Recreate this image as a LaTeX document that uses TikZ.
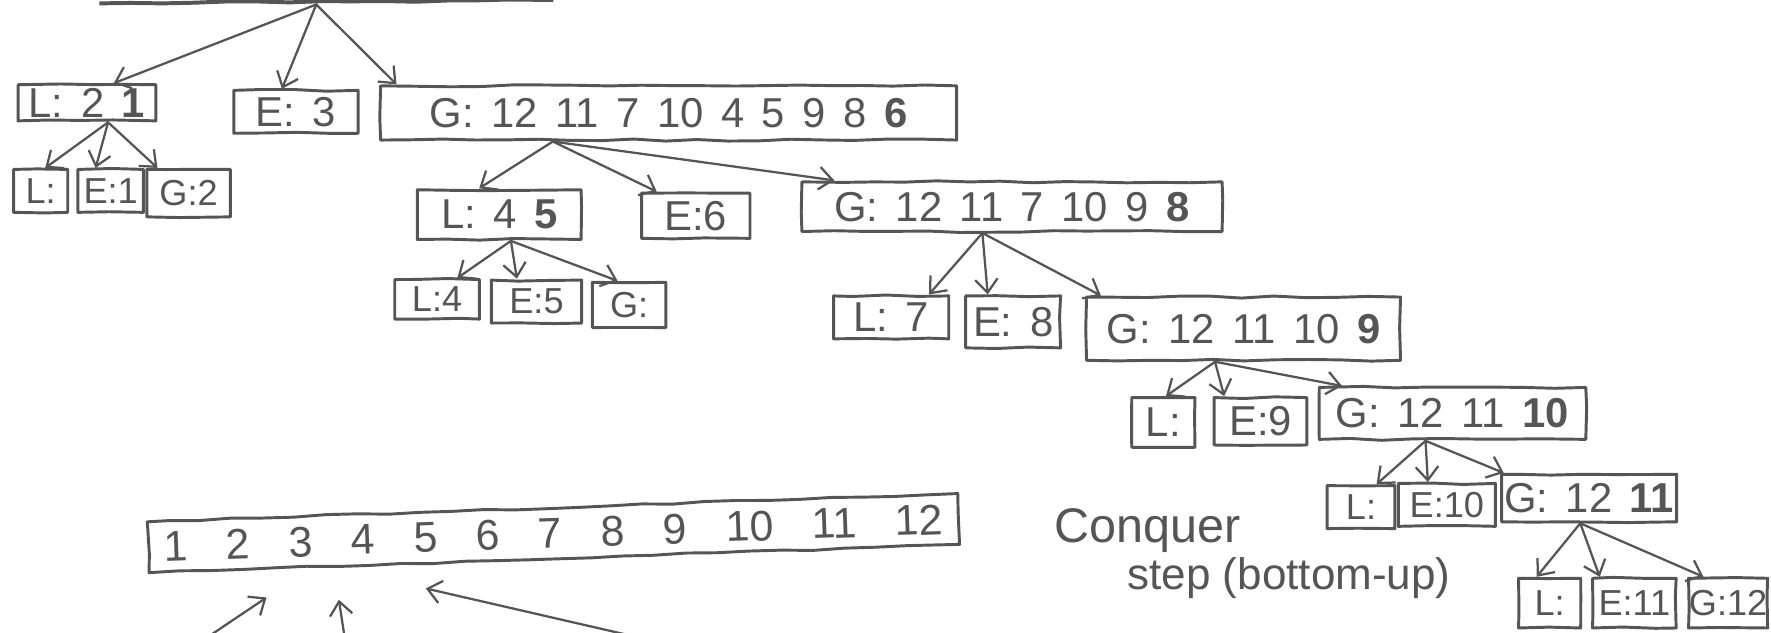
\documentclass[tikz,border=0pt]{standalone}
\usepackage{fontspec}
\setmainfont{Liberation Sans}
\usetikzlibrary{arrows.meta,calc,decorations.pathmorphing}
\definecolor{ink}{HTML}{555555}
\newcommand{\wsA}{\spaceskip 0.42em\relax}
\newcommand{\wsB}{\spaceskip 0.9em\relax}
\begin{document}
\pgfmathsetseed{7}
\begin{tikzpicture}[x=1pt,y=-1pt,
  sk/.style={draw=ink, line width=2.6pt, line join=round, decorate, decoration={random steps,segment length=28pt,amplitude=0.9pt}},
  box/.style={sk, rectangle, inner sep=0pt, text=ink, font=\fontsize{37}{42}\selectfont\wsA},
  sbox/.style={box, font=\fontsize{32}{38}\selectfont\wsA},
  arr/.style={draw=ink, line width=2pt, line cap=round, -{Straight Barb[length=12pt,width=20pt,line width=2pt]}},
  note/.style={text=ink, inner sep=0pt, anchor=west}]
\useasboundingbox (0,0) rectangle (1568,560);
% root (only its lower edge is visible)
\draw[sk, line width=3.5pt] (88,3) -- (490,0);
\coordinate (root) at (280,4);
% level 1
\node[box, minimum width=122pt, minimum height=32pt] (L21) at (77,91) {L: 2 \textbf{1}};
\node[box, minimum width=110pt, minimum height=38pt] (E3) at (262,99) {E: 3};
\node[box, minimum width=510pt, minimum height=48pt] (G6) at (592,100) {G: 12 11 7 10 4 5 9 8 \textbf{6}};
% children of L21
\node[sbox, minimum width=48pt, minimum height=38pt] (La) at (36,169) {L:};
\node[sbox, minimum width=58pt, minimum height=38pt] (E1) at (98,169) {E:1};
\node[sbox, minimum width=74pt, minimum height=42pt] (G2) at (167,171) {G:2};
% children of G6
\node[box, minimum width=145pt, minimum height=44pt] (L45) at (442,190) {L: 4 \textbf{5}};
\node[box, minimum width=96pt, minimum height=40pt] (E6) at (616,191) {E:6};
\node[box, minimum width=372pt, minimum height=44pt] (G8) at (896,183) {G: 12 11 7 10 9 \textbf{8}};
% children of L45
\node[sbox, minimum width=75pt, minimum height=35pt] (L4) at (387,265) {L:4};
\node[sbox, minimum width=80pt, minimum height=38pt] (E5) at (475,267) {E:5};
\node[sbox, minimum width=65pt, minimum height=40pt] (Gb) at (557,270) {G:};
% children of G8
\node[box, minimum width=102pt, minimum height=38pt] (L7) at (789,281) {L: 7};
\node[box, minimum width=84pt, minimum height=46pt] (E8) at (897,285) {E: 8};
\node[box, minimum width=278pt, minimum height=56pt] (G9) at (1101,291) {G: 12 11 10 \textbf{9}};
% children of G9
\node[box, minimum width=56pt, minimum height=44pt] (Lc) at (1030,374) {L:};
\node[box, minimum width=82pt, minimum height=42pt] (E9) at (1116,373) {E:9};
\node[box, minimum width=236pt, minimum height=46pt] (G10) at (1286,366) {G: 12 11 \textbf{10}};
% children of G10
\node[sbox, minimum width=60pt, minimum height=38pt] (Ld) at (1205,449) {L:};
\node[sbox, minimum width=86pt, minimum height=38pt] (E10) at (1281,447) {E:10};
\node[box, minimum width=155pt, minimum height=42pt] (G11) at (1407,441) {G: 12 \textbf{11}};
% children of G11
\node[sbox, minimum width=55pt, minimum height=44pt] (Le) at (1372,534) {L:};
\node[sbox, minimum width=74pt, minimum height=44pt] (E11) at (1447,534) {E:11};
\node[sbox, minimum width=70pt, minimum height=44pt] (G12) at (1530,534) {G:12};
% sorted result
\node[box, rotate=2, minimum width=718pt, minimum height=45pt, font=\fontsize{38}{42}\selectfont\wsB] (S) at (490,472) {1 2 3 4 5 6 7 8 9 10 11 12};
\node[note, font=\fontsize{43}{46}\selectfont] (cq) at (933,470) {Conquer};
\node[note, font=\fontsize{39}{42}\selectfont] (st) at (998,512) {step (bottom-up)};
% split points
\coordinate (sL21) at ($(L21.south west)!0.65!(L21.south east)$);
\coordinate (sG6) at ($(G6.south west)!0.3!(G6.south east)$);
\coordinate (sL45) at ($(L45.south west)!0.57!(L45.south east)$);
\coordinate (sG8) at ($(G8.south west)!0.43!(G8.south east)$);
\coordinate (sG9) at ($(G9.south west)!0.41!(G9.south east)$);
\coordinate (sG10) at ($(G10.south west)!0.4!(G10.south east)$);
\coordinate (sG11) at ($(G11.south west)!0.45!(G11.south east)$);
% arrows
\draw[arr] (root) -- ($(L21.north west)!0.69!(L21.north east)$);
\draw[arr] (root) -- ($(E3.north west)!0.39!(E3.north east)$);
\draw[arr] (root) -- ($(G6.north west)!0.03!(G6.north east)$);
\draw[arr] (sL21) -- ($(La.north west)!0.58!(La.north east)$);
\draw[arr] (sL21) -- ($(E1.north west)!0.28!(E1.north east)$);
\draw[arr] (sL21) -- ($(G2.north west)!0.14!(G2.north east)$);
\draw[arr] (sG6) -- ($(L45.north west)!0.38!(L45.north east)$);
\draw[arr] (sG6) -- ($(E6.north west)!0.15!(E6.north east)$);
\draw[arr] (sG6) -- ($(G8.north west)!0.08!(G8.north east)$);
\draw[arr] (sL45) -- ($(L4.north west)!0.73!(L4.north east)$);
\draw[arr] (sL45) -- ($(E5.north west)!0.29!(E5.north east)$);
\draw[arr] (sL45) -- ($(Gb.north west)!0.35!(Gb.north east)$);
\draw[arr] (sG8) -- ($(L7.north west)!0.82!(L7.north east)$);
\draw[arr] (sG8) -- ($(E8.north west)!0.24!(E8.north east)$);
\draw[arr] (sG8) -- ($(G9.north west)!0.05!(G9.north east)$);
\draw[arr] (sG9) -- ($(Lc.north west)!0.54!(Lc.north east)$);
\draw[arr] (sG9) -- ($(E9.north west)!0.12!(E9.north east)$);
\draw[arr] (sG9) -- ($(G10.north west)!0.09!(G10.north east)$);
\draw[arr] (sG10) -- ($(Ld.north west)!0.72!(Ld.north east)$);
\draw[arr] (sG10) -- ($(E10.north west)!0.31!(E10.north east)$);
\draw[arr] (sG10) -- ($(G11.north west)!0.02!(G11.north east)$);
\draw[arr] (sG11) -- ($(Le.north west)!0.3!(Le.north east)$);
\draw[arr] (sG11) -- ($(E11.north west)!0.1!(E11.north east)$);
\draw[arr] (sG11) -- ($(G12.north west)!0.2!(G12.north east)$);
% arrows coming up from below into the sorted array
\coordinate (b1) at (175,570);
\coordinate (b2) at (306,570);
\coordinate (b3) at (590,570);
\coordinate (t1) at (236,529);
\coordinate (t2) at (300,531);
\coordinate (t3) at (377,521);
\draw[arr] (b1) -- (t1);
\draw[arr] (b2) -- (t2);
\draw[arr] (b3) -- (t3);
\end{tikzpicture}
\end{document}
